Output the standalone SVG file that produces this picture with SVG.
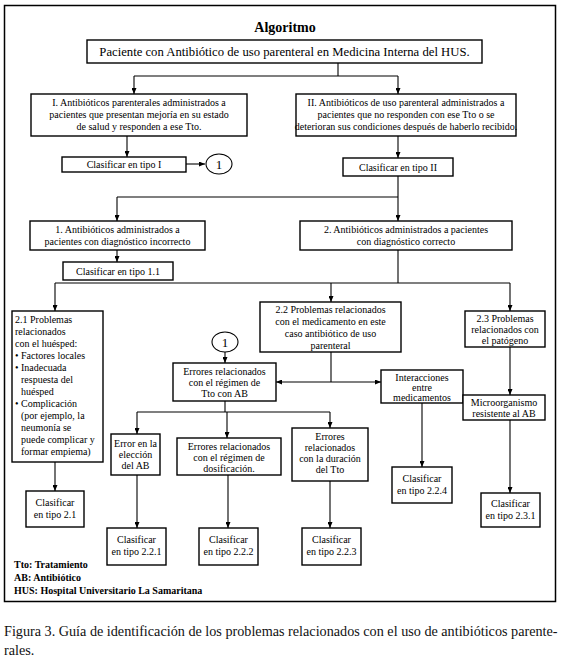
<svg xmlns="http://www.w3.org/2000/svg" width="571" height="663" viewBox="0 0 571 663">
<defs>
<marker id="ah" markerUnits="userSpaceOnUse" markerWidth="6" markerHeight="5" refX="6" refY="2.5" orient="auto">
<path d="M0,0 L6,2.5 L0,5 z" fill="#000"/>
</marker>
<style>
.bx{fill:#fff;stroke:#000;stroke-width:1.4}
.t{font-family:"Liberation Serif","Times New Roman","DejaVu Serif",serif;font-size:10px;text-anchor:middle;fill:#000}
.l{text-anchor:start}
.c{fill:none;stroke:#000;stroke-width:1.1}
.a{marker-end:url(#ah)}
.lg{font-family:"Liberation Serif","Times New Roman","DejaVu Serif",serif;font-size:10px;font-weight:bold;fill:#000}
</style>
</defs>
<rect x="0" y="0" width="571" height="663" fill="#fff"/>
<rect x="4.5" y="5.5" width="551" height="596" fill="none" stroke="#000" stroke-width="1.5"/>
<text x="285" y="32" style="font-family:'Liberation Serif','Times New Roman',serif;font-size:14px;font-weight:bold;text-anchor:middle">Algoritmo</text>

<g id="connectors">
<path class="c" d="M338,63 V76 M134,76 H398"/>
<path class="c a" d="M134,76 V94"/>
<path class="c a" d="M398,76 V94"/>
<path class="c a" d="M127,136 V157"/>
<path class="c a" d="M186,164 H205"/>
<path class="c a" d="M398,136 V158"/>
<path class="c" d="M398,176 V197 M117,197 H398"/>
<path class="c a" d="M117,197 V221"/>
<path class="c a" d="M398,197 V221"/>
<path class="c a" d="M117,250 V262"/>
<path class="c" d="M398,250 V283 M55,283 H510"/>
<path class="c a" d="M55,283 V311"/>
<path class="c a" d="M331,283 V302"/>
<path class="c a" d="M510,283 V311"/>
<path class="c" d="M331,352 V382"/>
<path class="c a" d="M331,382 H276"/>
<path class="c a" d="M331,382 H381"/>
<path class="c a" d="M225,352 V363"/>
<path class="c" d="M225,401 V412 M137,412 H330"/>
<path class="c a" d="M137,412 V434"/>
<path class="c a" d="M227,412 V438"/>
<path class="c a" d="M330,412 V428"/>
<path class="c a" d="M137,475 V528"/>
<path class="c a" d="M228,475 V528"/>
<path class="c a" d="M330,481 V528"/>
<path class="c a" d="M422,403 V467"/>
<path class="c a" d="M510,347 V395"/>
<path class="c a" d="M510,420 V493"/>
<path class="c a" d="M55,462 V491"/>
</g>

<g id="n-paciente"><rect class="bx" x="87" y="40" width="395" height="23"/>
<text class="t" x="284.5" y="56" style="font-size:12.7px">Paciente con Antibiótico de uso parenteral  en  Medicina Interna del HUS.</text></g>

<g id="n-I"><rect class="bx" x="31" y="94" width="216" height="42"/>
<text class="t" x="139" y="106">I. Antibióticos parenterales administrados a</text>
<text class="t" x="139" y="118">pacientes que presentan mejoría en su estado</text>
<text class="t" x="139" y="130">de salud  y responden a  ese Tto.</text></g>

<g id="n-II"><rect class="bx" x="296" y="94" width="220" height="42"/>
<text class="t" x="406" y="106">II. Antibióticos de uso parenteral administrados a</text>
<text class="t" x="406" y="118">pacientes que no responden con ese Tto o se</text>
<text class="t" x="406" y="130">deterioran sus condiciones después de haberlo recibido.</text></g>

<g id="n-c1"><rect class="bx" x="62" y="157" width="124" height="15"/>
<text class="t" x="124" y="168">Clasificar en tipo I</text></g>

<g id="n-ref1"><ellipse cx="219" cy="164" rx="13" ry="10" fill="#fff" stroke="#000" stroke-width="1.1"/>
<text class="t" x="219" y="168.5" style="font-size:13px">1</text></g>

<g id="n-c2"><rect class="bx" x="343" y="158" width="110" height="18"/>
<text class="t" x="398" y="171">Clasificar en tipo II</text></g>

<g id="n-1"><rect class="bx" x="30" y="221" width="175" height="29"/>
<text class="t" x="117.5" y="233">1. Antibióticos administrados a</text>
<text class="t" x="117.5" y="245">pacientes con diagnóstico incorrecto</text></g>

<g id="n-2"><rect class="bx" x="300" y="221" width="212" height="29"/>
<text class="t" x="406" y="233">2. Antibióticos administrados a pacientes</text>
<text class="t" x="406" y="245">con diagnóstico correcto</text></g>

<g id="n-c11"><rect class="bx" x="63" y="262" width="110" height="18"/>
<text class="t" x="118" y="275">Clasificar en tipo 1.1</text></g>

<g id="n-21"><rect class="bx" x="12" y="311" width="91" height="151"/>
<text class="t l" x="15" y="323">2.1 Problemas</text>
<text class="t l" x="15" y="335">relacionados</text>
<text class="t l" x="15" y="347">con el huésped:</text>
<text class="t l" x="15" y="359">• Factores locales</text>
<text class="t l" x="15" y="371">• Inadecuada</text>
<text class="t l" x="21" y="383">respuesta del</text>
<text class="t l" x="21" y="395">huésped</text>
<text class="t l" x="15" y="407">• Complicación</text>
<text class="t l" x="21" y="419">(por ejemplo, la</text>
<text class="t l" x="21" y="431">neumonía se</text>
<text class="t l" x="21" y="443">puede complicar y</text>
<text class="t l" x="21" y="455">formar empiema)</text></g>

<g id="n-22"><rect class="bx" x="260" y="302" width="141" height="50"/>
<text class="t" x="330.5" y="313">2.2 Problemas relacionados</text>
<text class="t" x="330.5" y="325">con el medicamento en este</text>
<text class="t" x="330.5" y="337">caso antibiótico de uso</text>
<text class="t" x="330.5" y="349">parenteral</text></g>

<g id="n-23"><rect class="bx" x="465" y="311" width="80" height="36"/>
<text class="t" x="505" y="322">2.3 Problemas</text>
<text class="t" x="505" y="333">relacionados con</text>
<text class="t" x="505" y="344">el patógeno</text></g>

<g id="n-ref1b"><ellipse cx="225" cy="342" rx="13" ry="10" fill="#fff" stroke="#000" stroke-width="1.1"/>
<text class="t" x="225" y="346.5" style="font-size:13px">1</text></g>

<g id="n-regimen"><rect class="bx" x="173" y="363" width="103" height="38"/>
<text class="t" x="224.5" y="375">Errores relacionados</text>
<text class="t" x="224.5" y="386">con el régimen de</text>
<text class="t" x="224.5" y="397">Tto con AB</text></g>

<g id="n-inter"><rect class="bx" x="381" y="370" width="82" height="33"/>
<text class="t" x="422" y="381">Interacciones</text>
<text class="t" x="422" y="391">entre</text>
<text class="t" x="422" y="401">medicamentos</text></g>

<g id="n-micro"><rect class="bx" x="463" y="395" width="82" height="25"/>
<text class="t" x="504" y="406">Microorganismo</text>
<text class="t" x="504" y="417">resistente al AB</text></g>

<g id="n-eleccion"><rect class="bx" x="111" y="434" width="49" height="41"/>
<text class="t" x="135.5" y="447">Error en la</text>
<text class="t" x="135.5" y="458">elección</text>
<text class="t" x="135.5" y="469">del AB</text></g>

<g id="n-dosis"><rect class="bx" x="177" y="438" width="104" height="37"/>
<text class="t" x="229" y="450">Errores relacionados</text>
<text class="t" x="229" y="461">con el régimen de</text>
<text class="t" x="229" y="472">dosificación.</text></g>

<g id="n-duracion"><rect class="bx" x="292" y="428" width="76" height="53"/>
<text class="t" x="330" y="440">Errores</text>
<text class="t" x="330" y="451">relacionados</text>
<text class="t" x="330" y="462">con la duración</text>
<text class="t" x="330" y="473">del Tto</text></g>

<g id="n-c21"><rect class="bx" x="26" y="491" width="58" height="36"/>
<text class="t" x="55" y="506">Clasificar</text>
<text class="t" x="55" y="518">en tipo 2.1</text></g>

<g id="n-c221"><rect class="bx" x="107" y="528" width="59" height="37"/>
<text class="t" x="136.5" y="543">Clasificar</text>
<text class="t" x="136.5" y="555">en tipo 2.2.1</text></g>

<g id="n-c222"><rect class="bx" x="199" y="528" width="59" height="37"/>
<text class="t" x="228.5" y="543">Clasificar</text>
<text class="t" x="228.5" y="555">en tipo 2.2.2</text></g>

<g id="n-c223"><rect class="bx" x="302" y="528" width="59" height="37"/>
<text class="t" x="331.5" y="543">Clasificar</text>
<text class="t" x="331.5" y="555">en tipo 2.2.3</text></g>

<g id="n-c224"><rect class="bx" x="392" y="467" width="60" height="36"/>
<text class="t" x="422" y="482">Clasificar</text>
<text class="t" x="422" y="494">en tipo 2.2.4</text></g>

<g id="n-c231"><rect class="bx" x="481" y="493" width="59" height="34"/>
<text class="t" x="510.5" y="507">Clasificar</text>
<text class="t" x="510.5" y="519">en tipo 2.3.1</text></g>

<g id="legend">
<text class="lg" x="14" y="568">Tto: Tratamiento</text>
<text class="lg" x="14" y="581">AB: Antibiótico</text>
<text class="lg" x="14" y="594">HUS: Hospital Universitario La Samaritana</text>
</g>

<g id="caption" style="font-family:'Liberation Serif','Times New Roman',serif;font-size:14.2px;fill:#111">
<text x="4" y="636">Figura 3. Guía de identificación de los problemas relacionados con el uso de antibióticos parente-</text>
<text x="4" y="655">rales.</text>
</g>
</svg>
